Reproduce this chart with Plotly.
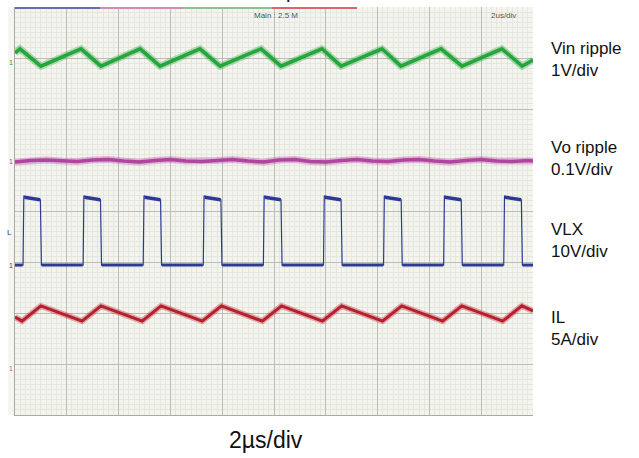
import plotly.graph_objects as go

# ---------------- data (time in us, amplitude in screen divisions) ----------------
vin_t = [0.00, 0.19, 1.00, 2.55, 3.32, 4.83, 5.60, 7.14, 7.92, 9.50, 10.27,
         11.85, 12.59, 14.17, 14.90, 16.45, 17.26, 18.80, 19.58, 20.00]
vin_v = [7.10, 7.18, 6.84, 7.18, 6.84, 7.18, 6.84, 7.18, 6.84, 7.18, 6.84,
         7.18, 6.84, 7.18, 6.84, 7.18, 6.84, 7.18, 6.84, 6.96]

vo_t = [0.00, 0.60, 1.20, 1.80, 2.40, 3.00, 3.60, 4.20, 4.80, 5.40, 6.00,
        6.60, 7.20, 7.80, 8.40, 9.00, 9.60, 10.20, 10.80, 11.40, 12.00,
        12.60, 13.20, 13.80, 14.40, 15.00, 15.60, 16.20, 16.80, 17.40,
        18.00, 18.60, 19.20, 19.80, 20.00]
vo_v = [4.96, 4.99, 5.00, 4.98, 4.97, 5.00, 5.01, 4.98, 4.96, 4.99, 5.01,
        4.98, 4.97, 4.99, 5.01, 4.98, 4.96, 5.00, 5.01, 4.97, 4.96, 4.99,
        5.01, 4.98, 4.97, 5.00, 5.01, 4.98, 4.96, 4.99, 5.01, 4.98, 4.97,
        4.99, 4.98]

vlx_rise = [0.31, 2.63, 4.95, 7.27, 9.59, 11.91, 14.23, 16.55, 18.87]
vlx_fall = [1.00, 3.32, 5.64, 7.97, 10.29, 12.61, 14.93, 17.25, 19.57]
vlx_high_start = 4.27
vlx_high_end = 4.22
vlx_low = 2.94

il_t = [0.00, 0.27, 1.00, 2.59, 3.32, 4.91, 5.64, 7.23, 7.97, 9.55, 10.29,
        11.87, 12.61, 14.19, 14.93, 16.51, 17.25, 18.83, 19.57, 20.00]
il_v = [1.92, 1.84, 2.14, 1.84, 2.14, 1.84, 2.14, 1.84, 2.14, 1.84, 2.14,
        1.84, 2.14, 1.84, 2.14, 1.84, 2.14, 1.84, 2.14, 2.04]

labels = [("Vin ripple", "1V/div"), ("Vo ripple", "0.1V/div"),
          ("VLX", "10V/div"), ("IL", "5A/div")]

GREEN = "#25a63c"
MAGENTA = "#b0459f"
BLUE = "#2c3a95"
RED = "#b81f2d"

# ---------------- build VLX polyline from edge times ----------------
vx, vy = [0.0], [vlx_low]
px, py = [], []
for r, f in zip(vlx_rise, vlx_fall):
    vx += [r, r + 0.03, r + 0.12, f - 0.02, f + 0.02]
    vy += [vlx_low, vlx_high_start + 0.03, vlx_high_start, vlx_high_end, vlx_low]
    px += [r + 0.05, f - 0.03, None]
    py += [vlx_high_start, vlx_high_end, None]
vx.append(20.0)
vy.append(vlx_low)
lows_x, lows_y = [0.0], [vlx_low]
for r, f in zip(vlx_rise, vlx_fall):
    lows_x += [r - 0.02, None, f + 0.03]
    lows_y += [vlx_low, None, vlx_low]
lows_x.append(20.0)
lows_y.append(vlx_low)

fig = go.Figure()


def add_band(x, y, color, w_under, w_main):
    fig.add_trace(go.Scatter(x=x, y=y, mode="lines", opacity=0.35,
                             line=dict(color=color, width=w_under),
                             hoverinfo="skip", showlegend=False))
    fig.add_trace(go.Scatter(x=x, y=y, mode="lines",
                             line=dict(color=color, width=w_main),
                             hoverinfo="skip", showlegend=False))


add_band(vin_t, vin_v, GREEN, 7, 3.5)
add_band(vo_t, vo_v, MAGENTA, 7, 3.5)
fig.add_trace(go.Scatter(x=vx, y=vy, mode="lines",
                         line=dict(color=BLUE, width=1.2),
                         hoverinfo="skip", showlegend=False))
fig.add_trace(go.Scatter(x=px, y=py, mode="lines",
                         line=dict(color=BLUE, width=3.5),
                         hoverinfo="skip", showlegend=False))
fig.add_trace(go.Scatter(x=lows_x, y=lows_y, mode="lines",
                         line=dict(color=BLUE, width=3),
                         hoverinfo="skip", showlegend=False))
add_band(il_t, il_v, RED, 6, 3)

# ---------------- layout ----------------
L, R, T, B = 15, 106, 7, 43
W, H = 639, 458
pw, ph = W - L - R, H - T - B


def px2x(p):
    return (p - L) / pw


def px2y(p):
    return (H - B - p) / ph


fig.update_layout(
    width=W, height=H,
    margin=dict(l=L, r=R, t=T, b=B, autoexpand=False),
    paper_bgcolor="white",
    plot_bgcolor="#f4f4ef",
    showlegend=False,
    font=dict(family="Liberation Sans, Arial, sans-serif", color="#1a1a1a"),
    xaxis=dict(range=[0, 20], dtick=2, showticklabels=False, ticks="",
               showgrid=True, gridcolor="#bdbdb8", gridwidth=1,
               zeroline=False, showline=True, linecolor="#a9a9a9", linewidth=1,
               minor=dict(dtick=0.2, showgrid=True, gridcolor="#e6e6e0",
                          gridwidth=1)),
    yaxis=dict(range=[0, 8], dtick=1, showticklabels=False, ticks="",
               showgrid=True, gridcolor="#bdbdb8", gridwidth=1,
               zeroline=False, showline=True, linecolor="#a9a9a9", linewidth=1,
               minor=dict(dtick=0.1, showgrid=True, gridcolor="#e6e6e0",
                          gridwidth=1)),
)

# left marker strip
fig.add_shape(type="rect", xref="paper", yref="paper",
              x0=px2x(8), x1=0, y0=0, y1=1,
              fillcolor="#f5f5f1", line=dict(width=0), layer="below")

# top channel colour strips
for c, a, b in [("#6470aa", 15, 100), ("#d38bb2", 100, 183),
                ("#8cc08c", 183, 272), ("#d9676a", 272, 357)]:
    fig.add_shape(type="rect", xref="paper", yref="paper",
                  x0=px2x(a), x1=px2x(b), y0=px2y(9), y1=1,
                  fillcolor=c, line=dict(width=0))

ann = []
# clipped title descender
ann.append(dict(text="p", xref="paper", yref="paper", x=px2x(291),
                y=px2y(4), xanchor="center", yanchor="bottom",
                showarrow=False, font=dict(size=20, color="#111")))
# in-screen readouts
ann.append(dict(text="Main : 2.5 M", xref="paper", yref="paper", x=px2x(276),
                y=px2y(15), xanchor="center", yanchor="middle",
                showarrow=False, font=dict(size=8, color="#555")))
ann.append(dict(text="2us/div", xref="paper", yref="paper", x=px2x(503),
                y=px2y(15), xanchor="center", yanchor="middle",
                showarrow=False, font=dict(size=8, color="#555")))
# ground markers
for yy, c in [(63, GREEN), (161, MAGENTA), (265, BLUE), (368, "#e0607a")]:
    ann.append(dict(text="1", xref="paper", yref="paper", x=px2x(11),
                    y=px2y(yy), xanchor="center", yanchor="middle",
                    showarrow=False, font=dict(size=7, color=c)))
ann.append(dict(text="L", xref="paper", yref="paper", x=px2x(9),
                y=px2y(232), xanchor="center", yanchor="middle",
                showarrow=False, font=dict(size=8, color=BLUE)))
# right side channel labels
for (a, b), yy in zip(labels, [60, 158, 240, 328]):
    ann.append(dict(text=a + "<br>" + b, xref="paper", yref="paper",
                    x=px2x(549), y=px2y(yy), xanchor="left", yanchor="middle",
                    align="left", showarrow=False,
                    font=dict(size=17, color="#111")))
# bottom timebase label
ann.append(dict(text="2µs/div", xref="paper", yref="paper", x=px2x(266),
                y=px2y(440), xanchor="center", yanchor="middle",
                showarrow=False, font=dict(size=23, color="#111")))
fig.update_layout(annotations=ann)

fig.write_html("out.html", config={"displayModeBar": False},
               post_script="document.body.style.margin='0';"
                           "document.body.style.padding='0';")
